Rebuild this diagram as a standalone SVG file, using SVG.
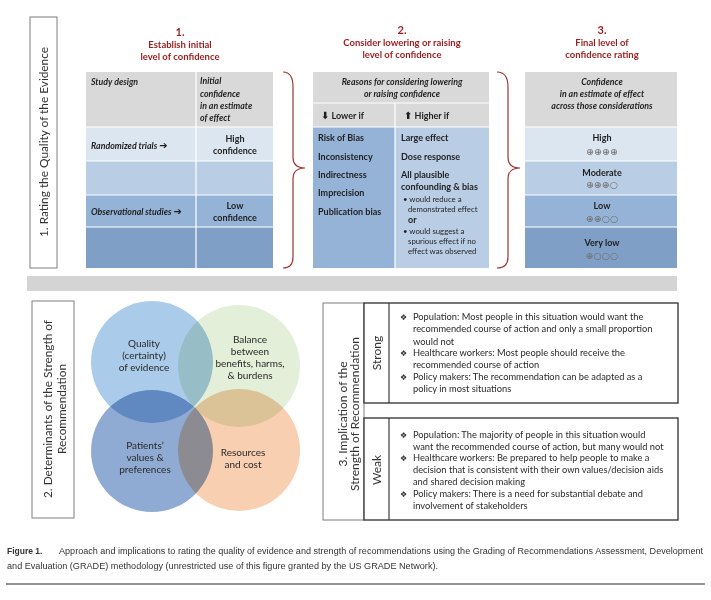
<svg xmlns="http://www.w3.org/2000/svg" width="711" height="600" viewBox="0 0 711 600">
<style>
text{font-family:Lato,"Liberation Sans",sans-serif;fill:#1f1f1f}
.ttl{font-weight:bold;fill:#9c1c1f;font-size:9.5px;text-anchor:middle}
.num{font-weight:bold;fill:#9c1c1f;font-size:11px;text-anchor:middle}
.hd{font-weight:bold;font-style:italic;font-size:8.8px}
.c{text-anchor:middle}
.b{font-weight:bold;font-size:9px}
.sm{font-size:7.8px}
.sym{font-family:"DejaVu Sans",sans-serif;font-size:9.5px;fill:#707070;text-anchor:middle}
.lbl{font-size:12px;fill:#333;text-anchor:middle}
.bx{fill:#fff;stroke:#7f7f7f;stroke-width:1}
.sbx{fill:#fff;stroke:#3c3c3c;stroke-width:1.4}
.li{font-size:9.3px;fill:#2a2a2a}
.bul{font-family:"DejaVu Sans",sans-serif;font-size:8px;fill:#2a2a2a}
.ct{font-size:10px;fill:#2a2a2a;text-anchor:middle}
.cap{font-family:"Liberation Sans",Arial,sans-serif;font-size:8.5px;fill:#333}
.brace{fill:none;stroke:#a03434;stroke-width:1.2}
.sep{stroke:#fff;stroke-width:1.2}
.arr{font-family:"DejaVu Sans",sans-serif;font-size:10px;font-style:normal}
</style>

<!-- Section 1 -->
<g id="section1-label">
<rect class="bx" x="30" y="17" width="27" height="251"/>
<text class="lbl" transform="translate(47.5,142) rotate(-90)" textLength="190" lengthAdjust="spacingAndGlyphs">1. Rating the Quality of the Evidence</text>
</g>

<g id="step1">
<text class="num" x="180" y="36">1.</text>
<text class="ttl" x="180" y="48">Establish initial</text>
<text class="ttl" x="180" y="60">level of confidence</text>
<rect x="86" y="72" width="187" height="55" fill="#d9d9d9"/>
<rect x="86" y="127" width="187" height="34" fill="#dce6f1"/>
<rect x="86" y="161" width="187" height="34" fill="#b9cde5"/>
<rect x="86" y="195" width="187" height="32" fill="#95b3d7"/>
<rect x="86" y="227" width="187" height="41" fill="#809fc6"/>
<line class="sep" x1="196" y1="72" x2="196" y2="268"/>
<line class="sep" x1="86" y1="127" x2="273" y2="127"/>
<line class="sep" x1="86" y1="161" x2="273" y2="161"/>
<line class="sep" x1="86" y1="195" x2="273" y2="195"/>
<line class="sep" x1="86" y1="227" x2="273" y2="227"/>
<text class="hd" x="91" y="85">Study design</text>
<text class="hd" x="200" y="84">Initial</text>
<text class="hd" x="200" y="97">confidence</text>
<text class="hd" x="200" y="109">in an estimate</text>
<text class="hd" x="200" y="121">of effect</text>
<text class="hd" x="91" y="149">Randomized trials <tspan class="arr" font-size="9">➔</tspan></text>
<text class="b c" x="235" y="142">High</text>
<text class="b c" x="235" y="154">confidence</text>
<text class="hd" x="91" y="215">Observational studies <tspan class="arr" font-size="9">➔</tspan></text>
<text class="b c" x="235" y="209">Low</text>
<text class="b c" x="235" y="221">confidence</text>
</g>

<g id="step2">
<text class="num" x="402" y="34">2.</text>
<text class="ttl" x="402" y="46">Consider lowering or raising</text>
<text class="ttl" x="402" y="58">level of confidence</text>
<rect x="313" y="72" width="176" height="55" fill="#d9d9d9"/>
<rect x="313" y="127" width="82" height="141" fill="#95b3d7"/>
<rect x="395" y="127" width="94" height="141" fill="#b9cde5"/>
<line class="sep" x1="313" y1="103" x2="489" y2="103"/>
<line class="sep" x1="313" y1="127" x2="489" y2="127"/>
<line class="sep" x1="395" y1="103" x2="395" y2="268"/>
<text class="hd c" x="402" y="85">Reasons for considering lowering</text>
<text class="hd c" x="402" y="97">or raising confidence</text>
<text class="b" x="321" y="119"><tspan class="arr">⬇</tspan> Lower if</text>
<text class="b" x="404" y="119"><tspan class="arr">⬆</tspan> Higher if</text>
<text class="b" x="318" y="141">Risk of Bias</text>
<text class="b" x="318" y="160">Inconsistency</text>
<text class="b" x="318" y="178">Indirectness</text>
<text class="b" x="318" y="196">Imprecision</text>
<text class="b" x="318" y="215">Publication bias</text>
<text class="b" x="401" y="141">Large effect</text>
<text class="b" x="401" y="160">Dose response</text>
<text class="b" x="401" y="178">All plausible</text>
<text class="b" x="401" y="190">confounding &amp; bias</text>
<text class="sm" x="403" y="202">• would reduce a</text>
<text class="sm" x="408" y="212">demonstrated effect</text>
<text class="b" x="408" y="223">or</text>
<text class="sm" x="403" y="234">• would suggest a</text>
<text class="sm" x="408" y="244">spurious effect if no</text>
<text class="sm" x="408" y="254">effect was observed</text>
</g>

<g id="step3">
<text class="num" x="602" y="34">3.</text>
<text class="ttl" x="602" y="46">Final level of</text>
<text class="ttl" x="602" y="58">confidence rating</text>
<rect x="525" y="72" width="152" height="55" fill="#d9d9d9"/>
<rect x="525" y="127" width="152" height="34" fill="#dce6f1"/>
<rect x="525" y="161" width="152" height="34" fill="#b9cde5"/>
<rect x="525" y="195" width="152" height="32" fill="#95b3d7"/>
<rect x="525" y="227" width="152" height="41" fill="#809fc6"/>
<line class="sep" x1="525" y1="127" x2="677" y2="127"/>
<line class="sep" x1="525" y1="161" x2="677" y2="161"/>
<line class="sep" x1="525" y1="195" x2="677" y2="195"/>
<line class="sep" x1="525" y1="227" x2="677" y2="227"/>
<text class="hd c" x="602" y="85">Confidence</text>
<text class="hd c" x="602" y="97">in an estimate of effect</text>
<text class="hd c" x="602" y="109">across those considerations</text>
<text class="b c" x="602" y="141">High</text>
<text class="sym" x="602" y="155">⊕⊕⊕⊕</text>
<text class="b c" x="602" y="176">Moderate</text>
<text class="sym" x="602" y="188">⊕⊕⊕○</text>
<text class="b c" x="602" y="209">Low</text>
<text class="sym" x="602" y="222">⊕⊕○○</text>
<text class="b c" x="602" y="246">Very low</text>
<text class="sym" x="602" y="259">⊕○○○</text>
</g>

<g id="connectors">
<path class="brace" d="M283,72 Q293,72 293,87 L293,157 Q293,168 305,168 Q293,168 293,179 L293,257 Q293,268 283,268"/>
<path class="brace" d="M497,72 Q508,72 508,87 L508,157 Q508,168 520,168 Q508,168 508,179 L508,257 Q508,268 497,268"/>
</g>

<rect id="divider-bar" x="27" y="276" width="650" height="15" fill="#d4d4d4"/>

<!-- Section 2 -->
<g id="section2-label">
<rect class="bx" x="32" y="301" width="42" height="217"/>
<text class="lbl" transform="translate(51.5,409) rotate(-90)" textLength="178" lengthAdjust="spacingAndGlyphs">2. Determinants of the Strength of</text>
<text class="lbl" transform="translate(65.5,409) rotate(-90)" textLength="90" lengthAdjust="spacingAndGlyphs">Recommendation</text>
</g>

<g id="venn" style="isolation:isolate">
<circle cx="152" cy="362" r="61" fill="#aacbea" style="mix-blend-mode:multiply"/>
<circle cx="239" cy="366" r="61" fill="#e3efd9" style="mix-blend-mode:multiply"/>
<circle cx="152" cy="451" r="61" fill="#90abd3" style="mix-blend-mode:multiply"/>
<circle cx="239" cy="450" r="61" fill="#f8cfb1" style="mix-blend-mode:multiply"/>
</g>
<g id="venn-quality">
<text class="ct" x="144" y="347">Quality</text>
<text class="ct" x="144" y="359">(certainty)</text>
<text class="ct" x="144" y="371">of evidence</text>
</g>
<g id="venn-balance">
<text class="ct" x="250" y="343">Balance</text>
<text class="ct" x="250" y="355">between</text>
<text class="ct" x="250" y="367">benefits, harms,</text>
<text class="ct" x="250" y="379">&amp; burdens</text>
</g>
<g id="venn-patients">
<text class="ct" x="145" y="449">Patients’</text>
<text class="ct" x="145" y="461">values &amp;</text>
<text class="ct" x="145" y="473">preferences</text>
</g>
<g id="venn-resources">
<text class="ct" x="243" y="456">Resources</text>
<text class="ct" x="243" y="468">and cost</text>
</g>

<!-- Section 3 -->
<g id="section3-label">
<rect class="bx" x="323" y="303" width="41" height="217"/>
<text class="lbl" transform="translate(346.5,414) rotate(-90)">3. Implication of the</text>
<text class="lbl" transform="translate(358.5,414) rotate(-90)">Strength of Recommendation</text>
</g>

<g id="strong">
<rect class="sbx" x="364" y="303" width="314" height="100"/>
<line x1="389" y1="303" x2="389" y2="403" stroke="#3c3c3c" stroke-width="1.2"/>
<text class="lbl" font-size="11" transform="translate(381,353) rotate(-90)">Strong</text>
<text class="bul" x="400" y="320">❖</text><text class="li" x="413" y="320">Population: Most people in this situation would want the</text>
<text class="li" x="413" y="332">recommended course of action and only a small proportion</text>
<text class="li" x="413" y="345">would not</text>
<text class="bul" x="400" y="356">❖</text><text class="li" x="413" y="356">Healthcare workers: Most people should receive the</text>
<text class="li" x="413" y="368">recommended course of action</text>
<text class="bul" x="400" y="380">❖</text><text class="li" x="413" y="380">Policy makers: The recommendation can be adapted as a</text>
<text class="li" x="413" y="392">policy in most situations</text>
</g>

<g id="weak">
<rect class="sbx" x="364" y="418" width="314" height="102"/>
<line x1="389" y1="418" x2="389" y2="520" stroke="#3c3c3c" stroke-width="1.2"/>
<text class="lbl" font-size="11" transform="translate(381,470) rotate(-90)">Weak</text>
<text class="bul" x="400" y="438">❖</text><text class="li" x="413" y="438">Population: The majority of people in this situation would</text>
<text class="li" x="413" y="450">want the recommended course of action, but many would not</text>
<text class="bul" x="400" y="461">❖</text><text class="li" x="413" y="461">Healthcare workers: Be prepared to help people to make a</text>
<text class="li" x="413" y="473">decision that is consistent with their own values/decision aids</text>
<text class="li" x="413" y="485">and shared decision making</text>
<text class="bul" x="400" y="497">❖</text><text class="li" x="413" y="497">Policy makers: There is a need for substantial debate and</text>
<text class="li" x="413" y="509">involvement of stakeholders</text>
</g>

<g id="caption">
<text class="cap" x="7" y="554" font-weight="bold" fill="#111">Figure 1.</text>
<text class="cap" x="59" y="554" textLength="644" lengthAdjust="spacingAndGlyphs">Approach and implications to rating the quality of evidence and strength of recommendations using the Grading of Recommendations Assessment, Development</text>
<text class="cap" x="7" y="569" textLength="431" lengthAdjust="spacingAndGlyphs">and Evaluation (GRADE) methodology (unrestricted use of this figure granted by the US GRADE Network).</text>
<line x1="6" y1="584" x2="705" y2="584" stroke="#6e6e6e" stroke-width="1.4"/>
</g>
</svg>
